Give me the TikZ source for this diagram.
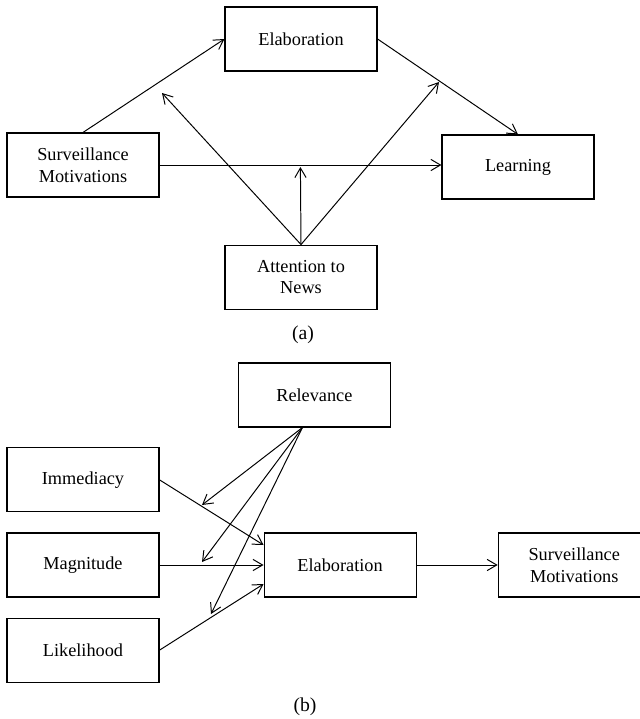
\documentclass[tikz,border=0pt]{standalone}
\usepackage{fontspec}
\setmainfont{Liberation Serif}
\usetikzlibrary{arrows.meta, positioning}

\begin{document}
\begin{tikzpicture}[
    box/.style={rectangle, draw, line width=0.8pt, minimum width=3.8cm, minimum height=1.6cm, align=center, font=\fontsize{13}{15.5}\selectfont},
    flow/.style={-{Straight Barb[length=2.4mm, width=2.8mm]}, line width=0.7pt},
    caption/.style={font=\fontsize{14}{16}\selectfont}
]
\useasboundingbox (0,0) rectangle (16,-17.975);
\clip (0,0) rectangle (16,-17.975);

% Panel (a)
\node[box] (elab) at (7.525,-0.975) {Elaboration};
\node[box] (surv) at (2.075,-4.125) {Surveillance\\Motivations};
\node[box] (learn) at (12.95,-4.175) {Learning};
\node[box, below=4.325cm of elab] (attn) {Attention to\\News};
\node[caption] (capa) at (7.575,-8.375) {(a)};

% Moderation targets
\coordinate (attnL) at (4.05,-2.325);
\coordinate (attnR) at (10.975,-2.05);
\coordinate (attnC) at (7.51,-4.175);

% Flows (a)
\draw[flow] (surv.north) -- (elab.west);
\draw[flow] (elab.east) -- (learn.north);
\draw[flow] (surv.east) -- (surv.east -| learn.west);
\draw[flow] (attn.north) -- (attnC);
\draw[flow] (attn.north) -- (attnL);
\draw[flow] (attn.north) -- (attnR);

% Panel (b)
\node[box] (relev) at (7.86,-9.875) {Relevance};
\node[box] (magn) at (2.075,-14.125) {Magnitude};
\node[box, above=0.5cm of magn] (immed) {Immediacy};
\node[box, below=0.5cm of magn] (likel) {Likelihood};
\node[box, right=2.6cm of magn] (elabb) {Elaboration};
\node[box, right=2.025cm of elabb] (survb) {Surveillance\\Motivations};
\node[caption] (capb) at (7.625,-17.675) {(b)};

% Moderation targets
\coordinate (relevI) at (5.05,-12.625);
\coordinate (relevM) at (5.05,-14.05);
\coordinate (relevL) at (5.275,-15.35);

% Flows (b)
\draw[flow] (immed.east) -- ([yshift=0.5cm]elabb.west);
\draw[flow] (magn.east) -- (elabb.west);
\draw[flow] (likel.east) -- ([yshift=-0.475cm]elabb.west);
\draw[flow] (elabb.east) -- (survb.west);
\draw[flow] ([xshift=-0.3cm]relev.south) -- (relevI);
\draw[flow] ([xshift=-0.3cm]relev.south) -- (relevM);
\draw[flow] ([xshift=-0.3cm]relev.south) -- (relevL);

\end{tikzpicture}
\end{document}
